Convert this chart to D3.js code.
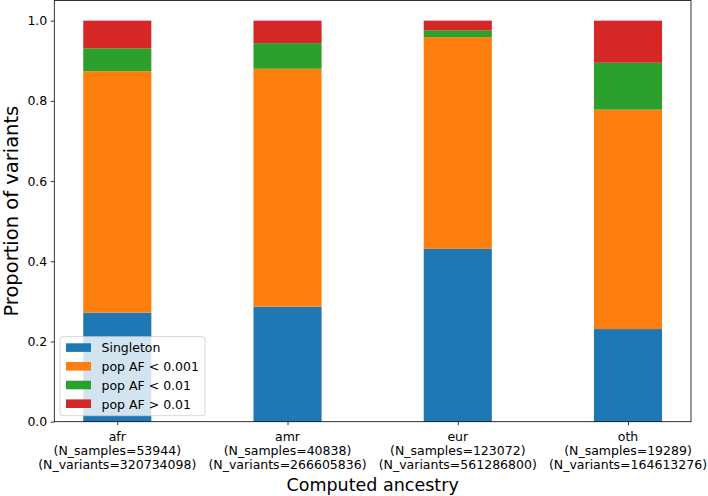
<!DOCTYPE html>
<html>
<head>
<meta charset="utf-8">
<script src="https://cdn.jsdelivr.net/npm/d3@7"></script>
<style>
  html, body { margin: 0; padding: 0; background: #fff; }
  svg { display: block; font-family: "DejaVu Sans", sans-serif; }
</style>
</head>
<body>
<svg id="chart" width="708" height="496"></svg>
<script>
const categories = ["afr", "amr", "eur", "oth"];
const nSamples = ["53944", "40838", "123072", "19289"];
const nVariants = ["320734098", "266605836", "561286800", "164613276"];
const seriesNames = ["Singleton", "pop AF < 0.001", "pop AF < 0.01", "pop AF > 0.01"];
const singleton = [0.272, 0.287, 0.431, 0.231];
const afLt001 = [0.602, 0.593, 0.528, 0.547];
const afLt01 = [0.057, 0.064, 0.017, 0.117];
const afGt01 = [0.069, 0.056, 0.024, 0.105];
const yTicks = [0.0, 0.2, 0.4, 0.6, 0.8, 1.0];
const colors = ["#1f77b4", "#ff7f0e", "#2ca02c", "#d62728"];

(function () {
const svg = d3.select("#chart");
const pLeft = 54.3, pRight = 691, pTop = 0.6, pBottom = 421.7;
const fs = 12.5;

const rows = categories.map((c, i) => ({
  cat: c, s0: singleton[i], s1: afLt001[i], s2: afLt01[i], s3: afGt01[i]
}));
const stack = d3.stack().keys(["s0", "s1", "s2", "s3"])(rows);

const x = d3.scaleLinear().domain([-0.37, 3.37]).range([pLeft, pRight]);
const y = d3.scaleLinear().domain([0, 1.05]).range([pBottom, pTop]);
const barW = 0.4;

const g = svg.append("g");
stack.forEach((layer, k) => {
  g.selectAll(null).data(layer).enter().append("rect")
    .attr("x", (d, i) => x(i - barW / 2))
    .attr("width", (d, i) => x(i + barW / 2) - x(i - barW / 2))
    .attr("y", d => y(d[1]))
    .attr("height", d => y(d[0]) - y(d[1]))
    .attr("fill", colors[k]);
});

// frame
svg.append("rect").attr("x", pLeft).attr("y", pTop).attr("width", pRight - pLeft).attr("height", pBottom - pTop)
  .attr("fill", "none").attr("stroke", "#000").attr("stroke-width", 0.8);

// y axis
const yAxis = d3.axisLeft(y).tickValues(yTicks).tickFormat(d3.format(".1f")).tickSize(3.5).tickPadding(3.5);
const ya = svg.append("g").attr("transform", `translate(${pLeft},0)`).call(yAxis);
ya.select(".domain").remove();
ya.selectAll("text").attr("font-size", fs).attr("font-family", "DejaVu Sans").attr("fill", "#000");
ya.selectAll("line").attr("stroke", "#000").attr("stroke-width", 0.8);

// x axis
const xAxis = d3.axisBottom(x).tickValues([0, 1, 2, 3]).tickFormat("").tickSize(3.5);
const xa = svg.append("g").attr("transform", `translate(0,${pBottom})`).call(xAxis);
xa.select(".domain").remove();
xa.selectAll("line").attr("stroke", "#000").attr("stroke-width", 0.8);

categories.forEach((c, i) => {
  const t = svg.append("text").attr("text-anchor", "middle").attr("font-size", fs).attr("fill", "#000");
  const lines = [c, `(N_samples=${nSamples[i]})`, `(N_variants=${nVariants[i]})`];
  lines.forEach((l, j) => {
    t.append("tspan").attr("x", x(i)).attr("y", 440.8 + j * 14.2).text(l);
  });
});

svg.append("text").attr("x", (pLeft + pRight) / 2).attr("y", 491).attr("text-anchor", "middle")
  .attr("font-size", 17.5).attr("fill", "#000").text("Computed ancestry");
svg.append("text").attr("transform", `translate(17.6,${(pTop + pBottom) / 2}) rotate(-90)`)
  .attr("text-anchor", "middle").attr("font-size", 19.5).attr("fill", "#000").text("Proportion of variants");

// legend
const lg = svg.append("g");
lg.append("rect").attr("x", 60).attr("y", 336.7).attr("width", 145).attr("height", 79)
  .attr("rx", 2.5).attr("fill", "#fff").attr("fill-opacity", 0.8).attr("stroke", "#ccc").attr("stroke-width", 0.8);
seriesNames.forEach((n, k) => {
  const cy = 347.6 + k * 18.7;
  lg.append("rect").attr("x", 66).attr("y", cy - 4.3).attr("width", 25).attr("height", 8.6).attr("fill", colors[k]);
  lg.append("text").attr("x", 101.5).attr("y", cy + 4.8).attr("font-size", fs).attr("fill", "#000").text(n);
});
})();
</script>
</body>
</html>
